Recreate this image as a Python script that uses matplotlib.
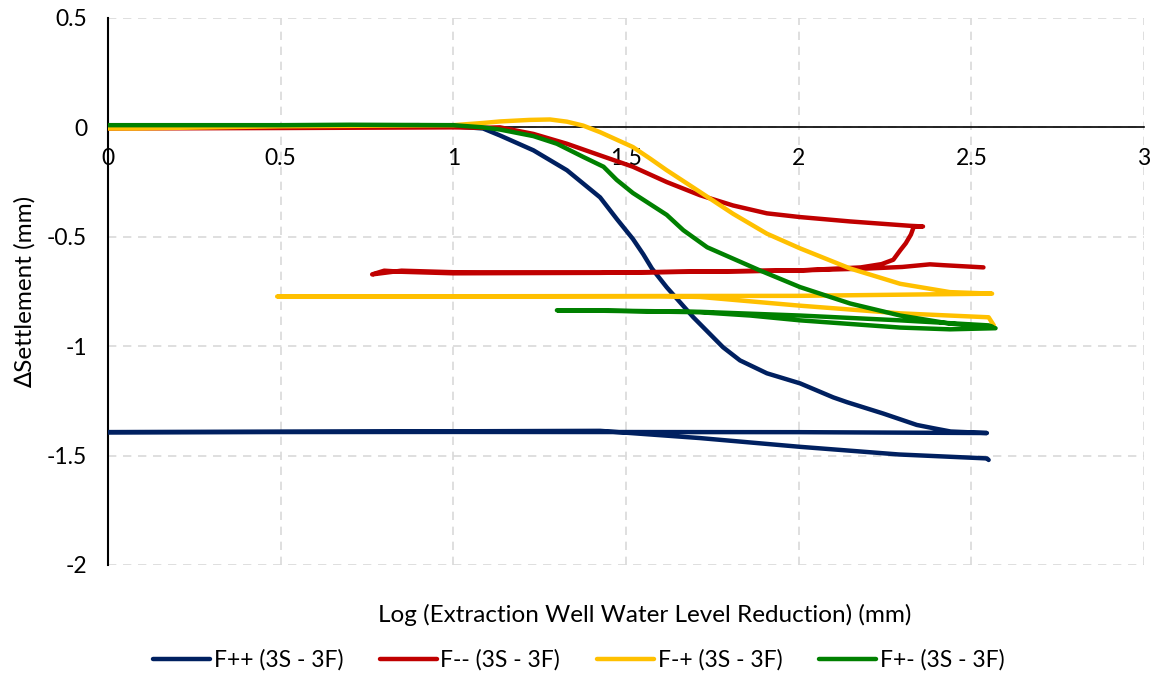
import matplotlib
matplotlib.use("Agg")
import matplotlib.pyplot as plt

plt.rcParams['font.family'] = ['Lato', 'DejaVu Sans']

# F++ (3S - 3F): loading, unloading back to 0, reloading
fpp_x = [0, 0.3, 0.6, 0.9, 1.0, 1.086, 1.135, 1.232, 1.329, 1.425, 1.474, 1.52, 1.55, 1.575, 1.618,
         1.695, 1.781, 1.83, 1.908, 2.004, 2.10, 2.14, 2.245, 2.342, 2.39, 2.44, 2.545,
         2.0, 1.0, 0.0,
         0.8, 1.425, 1.714, 2.004, 2.29, 2.545, 2.55]
fpp_y = [0.005, 0.005, 0.008, 0.01, 0.005, -0.005, -0.037, -0.105, -0.196, -0.32, -0.42, -0.51, -0.58, -0.645, -0.731,
         -0.868, -1.005, -1.065, -1.124, -1.17, -1.234, -1.256, -1.308, -1.36, -1.375, -1.39, -1.397,
         -1.393, -1.392, -1.393,
         -1.39, -1.387, -1.42, -1.46, -1.495, -1.513, -1.52]

# F-- (3S - 3F)
fmm_x = [0, 0.5, 1.0, 1.086, 1.135, 1.232, 1.329, 1.425, 1.52, 1.618, 1.714, 1.81, 1.908,
         2.004, 2.149, 2.323, 2.36,
         2.333, 2.325, 2.31, 2.294, 2.274, 2.24, 2.18, 2.0, 1.425, 1.0, 0.85, 0.80, 0.765,
         0.85, 1.0, 1.425, 2.0, 2.2, 2.3, 2.38, 2.42, 2.535]
fmm_y = [-0.005, -0.003, 0.0, -0.002, 0.0, -0.03, -0.075, -0.128, -0.18, -0.25, -0.31, -0.357, -0.393,
         -0.41, -0.43, -0.45, -0.453,
         -0.455, -0.49, -0.53, -0.562, -0.605, -0.625, -0.64, -0.654, -0.665, -0.667, -0.66, -0.655, -0.672,
         -0.655, -0.662, -0.664, -0.654, -0.645, -0.638, -0.626, -0.63, -0.64]

# F-+ (3S - 3F)
fmp_x = [0, 0.08, 0.5, 1.0, 1.086, 1.135, 1.22, 1.28, 1.329, 1.376, 1.425, 1.52, 1.57, 1.618,
         1.714, 1.81, 1.908, 2.004, 2.149, 2.294, 2.438, 2.56,
         2.0, 1.0, 0.49,
         1.0, 1.6, 1.714, 2.004, 2.294, 2.55, 2.565]
fmp_y = [-0.005, -0.005, 0.005, 0.01, 0.02, 0.027, 0.034, 0.036, 0.026, 0.008, -0.022, -0.09, -0.143, -0.196,
         -0.295, -0.395, -0.486, -0.553, -0.645, -0.715, -0.753, -0.76,
         -0.77, -0.772, -0.773,
         -0.773, -0.772, -0.775, -0.815, -0.85, -0.868, -0.905]

# F+- (3S - 3F)
fpm_x = [0, 0.5, 0.7, 1.0, 1.086, 1.135, 1.232, 1.30, 1.376, 1.435, 1.473, 1.52, 1.618,
         1.666, 1.735, 1.888, 2.004, 2.149, 2.294, 2.438, 2.563,
         2.55, 2.294, 2.004, 1.714, 1.425, 1.30,
         1.425, 1.714, 1.86, 2.004, 2.294, 2.438, 2.57]
fpm_y = [0.01, 0.01, 0.012, 0.01, 0.0, -0.01, -0.04, -0.075, -0.135, -0.18, -0.24, -0.30, -0.40,
         -0.47, -0.548, -0.654, -0.73, -0.805, -0.86, -0.897, -0.913,
         -0.905, -0.882, -0.86, -0.843, -0.837, -0.836,
         -0.838, -0.845, -0.86, -0.882, -0.915, -0.923, -0.918]

series = [
    ("F++ (3S - 3F)", fpp_x, fpp_y, "#002060"),
    ("F-- (3S - 3F)", fmm_x, fmm_y, "#C00000"),
    ("F-+ (3S - 3F)", fmp_x, fmp_y, "#FFC000"),
    ("F+- (3S - 3F)", fpm_x, fpm_y, "#008000"),
]

fig = plt.figure(figsize=(11.57, 6.75), dpi=100)
ax = fig.add_axes([0.0933, 0.163, 0.8955, 0.8104])

for label, xs, ys, color in series:
    ax.plot(xs, ys, color=color, lw=3.2, label=label, solid_capstyle='round',
            solid_joinstyle='round', zorder=3)

ax.set_xlim(0, 3)
ax.set_ylim(-2, 0.5)
ax.set_xticks([0, 0.5, 1, 1.5, 2, 2.5, 3])
ax.set_xticklabels(["0", "0.5", "1", "1.5", "2", "2.5", "3"])
ax.set_yticks([-2, -1.5, -1, -0.5, 0, 0.5])
ax.set_yticklabels(["-2", "-1.5", "-1", "-0.5", "0", "0.5"])

ax.grid(True, color="#D9D9D9", linestyle=(0, (5, 4)), lw=1.2, zorder=0)
for s in ['top', 'right']:
    ax.spines[s].set_visible(False)
ax.spines['bottom'].set_position(('data', 0))
ax.spines['bottom'].set_color('black')
ax.spines['bottom'].set_linewidth(1.2)
ax.spines['bottom'].set_zorder(2)
ax.spines['left'].set_linewidth(1.5)
ax.tick_params(length=0, labelsize=16.5)
ax.tick_params(axis='x', pad=15)
ax.tick_params(axis='y', pad=15)

ax.set_ylabel("∆Settlement (mm)", fontsize=17.5, labelpad=8)
fig.text(0.557, 0.089, "Log (Extraction Well Water Level Reduction) (mm)",
         ha='center', va='center', fontsize=17.5)

fig.legend(loc='center', bbox_to_anchor=(0.5, 0.022), ncol=4, frameon=False,
           fontsize=16.5, handlelength=2.5, columnspacing=1.6, handletextpad=0.15)

fig.savefig("out.png", dpi=100)
